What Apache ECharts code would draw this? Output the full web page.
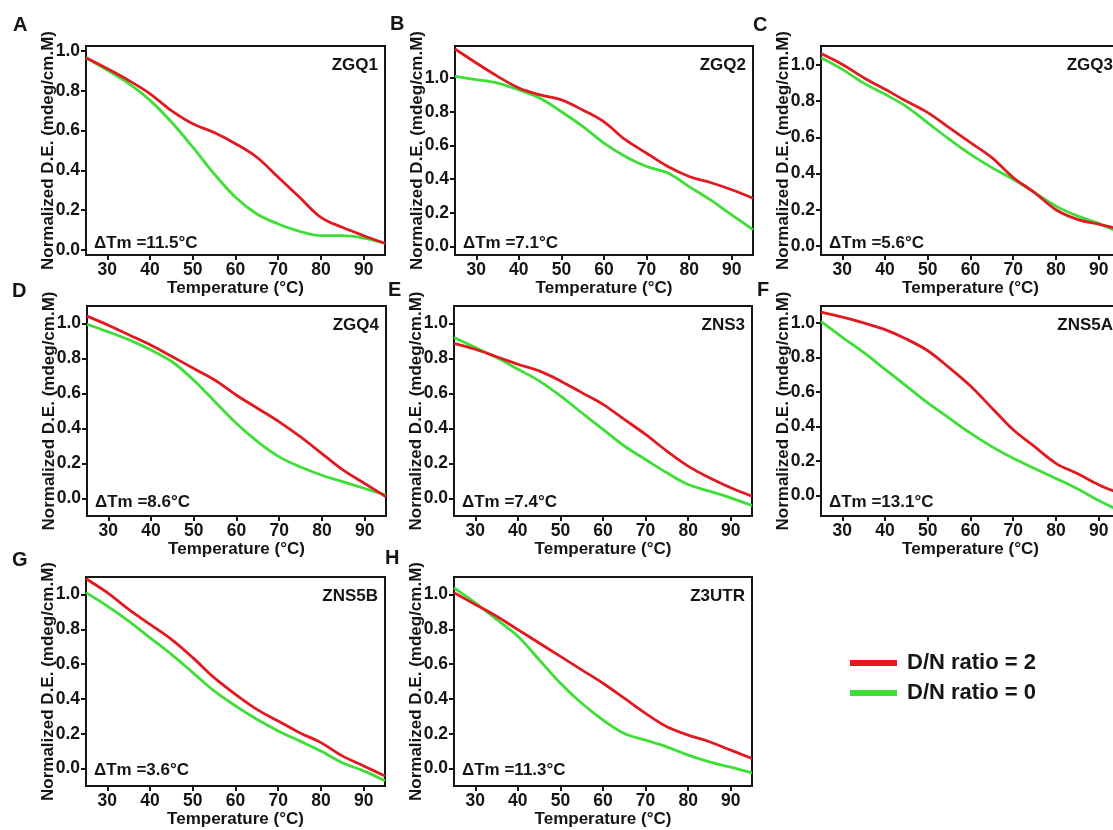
<!DOCTYPE html>
<html>
<head>
<meta charset="utf-8">
<title>Thermal melting of G-quadruplex constructs</title>
<script src="https://cdn.jsdelivr.net/npm/echarts@6/dist/echarts.min.js"></script>
<style>
  html, body { margin: 0; padding: 0; background: #ffffff; }
  #chart { width: 1113px; height: 830px; }
</style>
</head>
<body>
<div id="chart"></div>
<script>
// Temperature sampling (°C) shared by every melting curve
const temps = [25, 30, 35, 40, 45, 50, 55, 60, 65, 70, 75, 80, 85, 90, 95];

// Axis ticks
const xTicks = [30, 40, 50, 60, 70, 80, 90];
const yTicks = [0, 0.2, 0.4, 0.6, 0.8, 1.0];

// Panel labels, construct names and melting-temperature shifts
const panelLetters = ['A', 'B', 'C', 'D', 'E', 'F', 'G', 'H'];
const constructNames = ['ZGQ1', 'ZGQ2', 'ZGQ3', 'ZGQ4', 'ZNS3', 'ZNS5A', 'ZNS5B', 'Z3UTR'];
const deltaTm = ['11.5', '7.1', '5.6', '8.6', '7.4', '13.1', '3.6', '11.3'];

// Series names
const seriesRatio2 = 'D/N ratio = 2';
const seriesRatio0 = 'D/N ratio = 0';

// Normalized D.E. (mdeg/cm.M) per construct, D/N ratio = 2
const zgq1Ratio2  = [0.966, 0.911, 0.852, 0.785, 0.700, 0.634, 0.590, 0.534, 0.466, 0.366, 0.265, 0.164, 0.114, 0.072, 0.034];
const zgq2Ratio2  = [1.172, 1.089, 1.010, 0.941, 0.900, 0.870, 0.810, 0.740, 0.634, 0.554, 0.475, 0.416, 0.380, 0.337, 0.287];
const zgq3Ratio2  = [1.063, 1.003, 0.930, 0.866, 0.800, 0.737, 0.654, 0.571, 0.488, 0.378, 0.295, 0.200, 0.147, 0.120, 0.092];
const zgq4Ratio2  = [1.042, 0.990, 0.933, 0.876, 0.810, 0.743, 0.676, 0.590, 0.514, 0.438, 0.352, 0.257, 0.162, 0.086, 0.010];
const zns3Ratio2  = [0.887, 0.853, 0.810, 0.767, 0.729, 0.672, 0.605, 0.538, 0.452, 0.366, 0.271, 0.185, 0.118, 0.061, 0.013];
const zns5aRatio2 = [1.064, 1.035, 1.002, 0.963, 0.908, 0.840, 0.742, 0.635, 0.508, 0.381, 0.283, 0.186, 0.127, 0.062, 0.010];
const zns5bRatio2 = [1.090, 1.010, 0.914, 0.828, 0.742, 0.637, 0.522, 0.426, 0.340, 0.273, 0.206, 0.149, 0.073, 0.015, -0.042];
const z3utrRatio2 = [1.010, 0.942, 0.875, 0.798, 0.721, 0.644, 0.567, 0.490, 0.404, 0.317, 0.240, 0.192, 0.154, 0.106, 0.058];

// Normalized D.E. (mdeg/cm.M) per construct, D/N ratio = 0
const zgq1Ratio0  = [0.966, 0.903, 0.836, 0.752, 0.643, 0.517, 0.383, 0.265, 0.181, 0.131, 0.094, 0.072, 0.072, 0.060, 0.034];
const zgq2Ratio0  = [1.010, 0.990, 0.970, 0.930, 0.880, 0.800, 0.713, 0.614, 0.535, 0.475, 0.436, 0.356, 0.277, 0.188, 0.100];
const zgq3Ratio0  = [1.040, 0.976, 0.900, 0.838, 0.770, 0.680, 0.590, 0.506, 0.433, 0.368, 0.295, 0.220, 0.166, 0.125, 0.074];
const zgq4Ratio0  = [0.996, 0.952, 0.905, 0.848, 0.780, 0.676, 0.552, 0.429, 0.324, 0.238, 0.180, 0.133, 0.095, 0.057, 0.020];
const zns3Ratio0  = [0.920, 0.863, 0.805, 0.739, 0.672, 0.586, 0.490, 0.395, 0.300, 0.223, 0.147, 0.080, 0.042, 0.004, -0.040];
const zns5aRatio0 = [1.010, 0.918, 0.830, 0.732, 0.635, 0.537, 0.449, 0.361, 0.283, 0.215, 0.156, 0.098, 0.039, -0.030, -0.090];
const zns5bRatio0 = [1.010, 0.933, 0.847, 0.751, 0.656, 0.551, 0.446, 0.360, 0.283, 0.216, 0.159, 0.101, 0.034, -0.013, -0.070];
const z3utrRatio0 = [1.038, 0.952, 0.856, 0.760, 0.625, 0.490, 0.375, 0.279, 0.202, 0.163, 0.125, 0.077, 0.038, 0.008, -0.025];

const ratio2Curves = [zgq1Ratio2, zgq2Ratio2, zgq3Ratio2, zgq4Ratio2, zns3Ratio2, zns5aRatio2, zns5bRatio2, z3utrRatio2];
const ratio0Curves = [zgq1Ratio0, zgq2Ratio0, zgq3Ratio0, zgq4Ratio0, zns3Ratio0, zns5aRatio0, zns5bRatio0, z3utrRatio0];

// Panel frames (px) and vertical axis extents
const layout = [
  { left: 86,  top: 46,  width: 299, height: 209, yMin: -0.025, yMax: 1.025, letterX: 13,  letterY: 25 },
  { left: 455, top: 46,  width: 298, height: 209, yMin: -0.05,  yMax: 1.19,  letterX: 390, letterY: 24 },
  { left: 821, top: 46,  width: 299, height: 209, yMin: -0.05,  yMax: 1.105, letterX: 753, letterY: 25 },
  { left: 87,  top: 306, width: 299, height: 210, yMin: -0.10,  yMax: 1.10,  letterX: 12,  letterY: 291 },
  { left: 454, top: 306, width: 298, height: 210, yMin: -0.10,  yMax: 1.10,  letterX: 388, letterY: 290 },
  { left: 821, top: 306, width: 299, height: 210, yMin: -0.12,  yMax: 1.10,  letterX: 757, letterY: 290 },
  { left: 86,  top: 577, width: 299, height: 209, yMin: -0.10,  yMax: 1.10,  letterX: 12,  letterY: 560 },
  { left: 454, top: 577, width: 298, height: 209, yMin: -0.10,  yMax: 1.10,  letterX: 385, letterY: 558 }
];

const FONT = '"Liberation Sans", Arial, Helvetica, sans-serif';
const INK = '#151515';
const RED = '#e01a20';
const GREEN = '#3ddf36';

const grids = [], xAxes = [], yAxes = [], series = [], graphics = [];

layout.forEach(function (p, i) {
  grids.push({
    left: p.left, top: p.top, width: p.width, height: p.height,
    outerBoundsMode: 'none', containLabel: false,
    show: true, borderColor: INK, borderWidth: 2, backgroundColor: 'transparent'
  });

  xAxes.push({
    type: 'value', gridIndex: i, min: 25, max: 95,
    name: 'Temperature (°C)', nameLocation: 'middle', nameGap: 25, nameMoveOverlap: false,
    nameTextStyle: { fontFamily: FONT, fontWeight: 'bold', fontSize: 17, color: INK },
    axisLine: { show: true, onZero: false, lineStyle: { color: INK, width: 2 } },
    axisTick: { show: true, customValues: xTicks, length: 5, lineStyle: { color: INK, width: 2 } },
    axisLabel: { customValues: xTicks, margin: 6, fontFamily: FONT, fontWeight: 'bold', fontSize: 17.5, color: INK },
    splitLine: { show: false }
  });

  yAxes.push({
    type: 'value', gridIndex: i, min: p.yMin, max: p.yMax,
    name: 'Normalized D.E. (mdeg/cm.M)', nameLocation: 'middle', nameRotate: 90, nameGap: 29,
    nameMoveOverlap: false,
    nameTextStyle: { fontFamily: FONT, fontWeight: 'bold', fontSize: 17, color: INK },
    axisLine: { show: true, onZero: false, lineStyle: { color: INK, width: 2 } },
    axisTick: { show: true, customValues: yTicks, length: 5, lineStyle: { color: INK, width: 2 } },
    axisLabel: {
      customValues: yTicks, margin: 6, fontFamily: FONT, fontWeight: 'bold', fontSize: 17.5, color: INK,
      formatter: function (v) { return v.toFixed(1); }
    },
    splitLine: { show: false }
  });

  series.push({
    name: seriesRatio0, type: 'line', xAxisIndex: i, yAxisIndex: i,
    data: temps.map(function (t, k) { return [t, ratio0Curves[i][k]]; }),
    smooth: 0.35, showSymbol: false, color: GREEN,
    lineStyle: { color: GREEN, width: 2.8 }, z: 2
  });
  series.push({
    name: seriesRatio2, type: 'line', xAxisIndex: i, yAxisIndex: i,
    data: temps.map(function (t, k) { return [t, ratio2Curves[i][k]]; }),
    smooth: 0.35, showSymbol: false, color: RED,
    lineStyle: { color: RED, width: 2.8 }, z: 3
  });

  // panel letter
  graphics.push({
    type: 'text', x: p.letterX, y: p.letterY, z: 10,
    style: { text: panelLetters[i], fill: INK, font: 'bold 20px ' + FONT, align: 'left', verticalAlign: 'middle' }
  });
  // construct name, top-right inside the frame
  graphics.push({
    type: 'text', x: p.left + p.width - 7, y: p.top + 19, z: 10,
    style: { text: constructNames[i], fill: INK, font: 'bold 17px ' + FONT, align: 'right', verticalAlign: 'middle' }
  });
  // melting temperature shift, bottom-left inside the frame
  graphics.push({
    type: 'text', x: p.left + 8, y: p.top + p.height - (i < 3 ? 12 : (i < 6 ? 14 : 16)), z: 10,
    style: { text: '\u0394Tm =' + deltaTm[i] + '°C', fill: INK, font: 'bold 17px ' + FONT, align: 'left', verticalAlign: 'middle' }
  });
});

const chart = echarts.init(document.getElementById('chart'), null, { renderer: 'canvas' });
chart.setOption({
  animation: false,
  backgroundColor: '#ffffff',
  grid: grids,
  xAxis: xAxes,
  yAxis: yAxes,
  series: series,
  legend: {
    data: [seriesRatio2, seriesRatio0],
    orient: 'vertical', left: 845, top: 647,
    icon: 'rect', itemWidth: 47, itemHeight: 6, itemGap: 8,
    selectedMode: false,
    textStyle: { fontFamily: FONT, fontWeight: 'bold', fontSize: 22, color: INK, padding: [0, 0, 0, 5] }
  },
  graphic: graphics
});
</script>
</body>
</html>
